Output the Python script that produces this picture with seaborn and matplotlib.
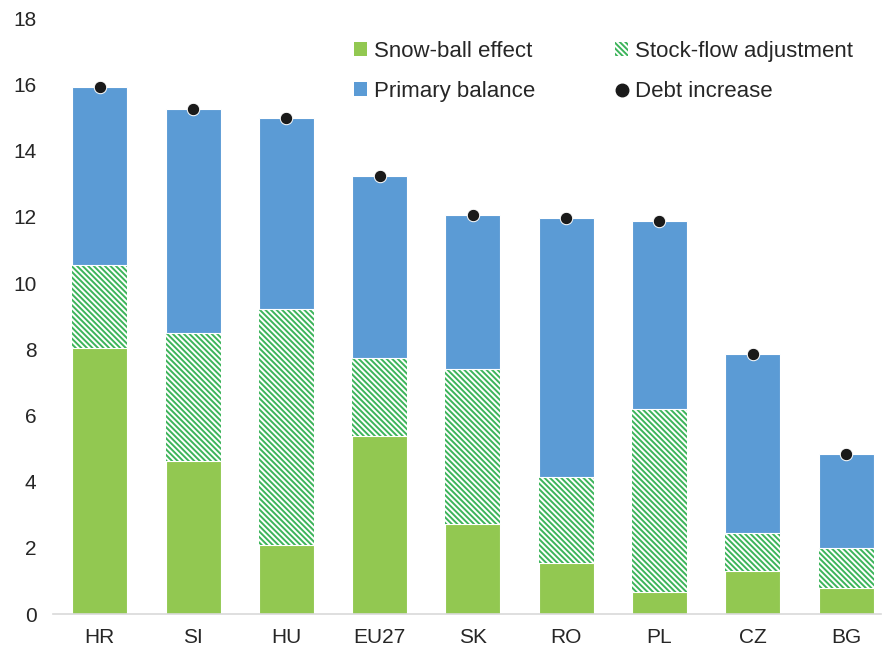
import pandas as pd
import seaborn as sns
import matplotlib.pyplot as plt
from matplotlib.patches import Patch
from matplotlib.lines import Line2D

# Data
countries = ["HR", "SI", "HU", "EU27", "SK", "RO", "PL", "CZ", "BG"]
snowball = [8.04, 4.62, 2.08, 5.38, 2.72, 1.54, 0.66, 1.30, 0.79]
stock_flow = [2.50, 3.87, 7.13, 2.35, 4.68, 2.60, 5.53, 1.15, 1.20]
primary = [5.38, 6.77, 5.77, 5.50, 4.65, 7.82, 5.68, 5.40, 2.84]
debt_increase = [15.92, 15.26, 14.98, 13.23, 12.05, 11.96, 11.87, 7.85, 4.83]

df = pd.DataFrame({
    "country": countries,
    "snowball": snowball,
    "stock_flow": stock_flow,
    "primary": primary,
    "debt": debt_increase,
})
df["sf_bottom"] = df["snowball"]
df["pb_bottom"] = df["snowball"] + df["stock_flow"]

green = "#92c851"
hatch_green = "#3cb45a"
blue = "#5b9bd5"
hatch = "\\" * 6

sns.set_theme(style="white")
plt.rcParams["font.family"] = ["Liberation Sans", "DejaVu Sans"]
plt.rcParams["hatch.linewidth"] = 1.4

fig = plt.figure(figsize=(8.85, 6.52), dpi=100)
ax = fig.add_axes([0.06, 0.058, 0.935, 0.914])

w = 0.59
sns.barplot(data=df, x="country", y="snowball", color=green, width=w,
            saturation=1, edgecolor="white", linewidth=0.8, ax=ax)
sns.barplot(data=df, x="country", y="stock_flow", bottom=df["sf_bottom"],
            color="white", width=w, saturation=1, edgecolor=hatch_green,
            linewidth=0, hatch=hatch, ax=ax)
sns.barplot(data=df, x="country", y="primary", bottom=df["pb_bottom"],
            color=blue, width=w, saturation=1, edgecolor="white",
            linewidth=0.8, ax=ax)
sns.scatterplot(data=df, x="country", y="debt", color="#1a1a1a", s=80,
                zorder=5, ax=ax, legend=False)

ax.set_ylim(0, 18)
ax.set_xlim(-0.5, 8.37)
ax.set_yticks(range(0, 19, 2))
ax.set_xlabel("")
ax.set_ylabel("")
ax.tick_params(axis="both", labelsize=15, colors="#262626", length=0)
ax.tick_params(axis="x", pad=10)
ax.tick_params(axis="y", pad=12)
for s in ["left", "right", "top"]:
    ax.spines[s].set_visible(False)
ax.spines["bottom"].set_color("#d9d9d9")
ax.spines["bottom"].set_linewidth(1.2)

handles = [
    Patch(facecolor=green, edgecolor="none", label="Snow-ball effect"),
    Patch(facecolor=blue, edgecolor="none", label="Primary balance"),
    Patch(facecolor="white", edgecolor=hatch_green, hatch=hatch,
          linewidth=0, label="Stock-flow adjustment"),
    Line2D([], [], marker="o", color="none", markerfacecolor="#1a1a1a",
           markeredgecolor="#1a1a1a", markersize=9, label="Debt increase"),
]
ax.legend(handles=handles, ncol=2, loc="upper right",
          bbox_to_anchor=(0.991, 0.995), frameon=False, fontsize=16,
          handlelength=0.6, handleheight=0.6, handletextpad=0.3,
          columnspacing=3.6, labelspacing=0.85)

fig.savefig("out.png", dpi=100)
